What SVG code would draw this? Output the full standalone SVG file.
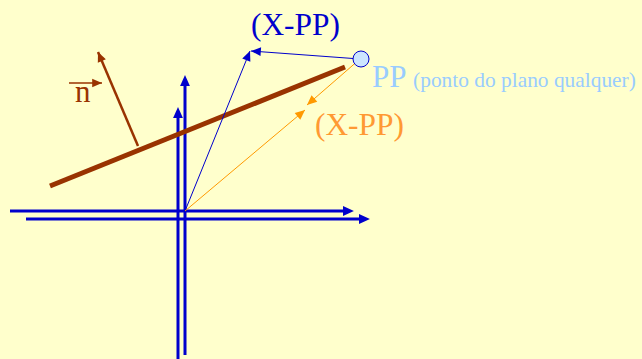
<svg xmlns="http://www.w3.org/2000/svg" width="642" height="359" viewBox="0 0 642 359">
<style>
.t{font-family:"Liberation Serif","Times New Roman",serif;}
.axis{stroke:#0000CC;stroke-width:3;fill:none;}
.thinb{stroke:#0000CC;stroke-width:1;fill:none;}
.thino{stroke:#FF9900;stroke-width:1;fill:none;}
.brown{stroke:#993300;fill:none;}
</style>
<defs>
<marker id="axh" markerUnits="userSpaceOnUse" markerWidth="12" markerHeight="12" viewBox="0 -5 11 10" refX="0" refY="0" orient="auto"><path d="M0,-4.5 L10,0 L0,4.5 z" fill="#0000CC"/></marker>
<marker id="bh" markerUnits="userSpaceOnUse" markerWidth="12" markerHeight="12" viewBox="-10 -5 11 10" refX="0" refY="0" orient="auto"><path d="M-9,-4 L0,0 L-9,4 z" fill="#0000CC"/></marker>
<marker id="oh" markerUnits="userSpaceOnUse" markerWidth="12" markerHeight="12" viewBox="-10 -5 11 10" refX="0" refY="0" orient="auto"><path d="M-9,-4 L0,0 L-9,4 z" fill="#FF9900"/></marker>
<marker id="brh" markerUnits="userSpaceOnUse" markerWidth="12" markerHeight="12" viewBox="-10 -5 11 10" refX="0" refY="0" orient="auto"><path d="M-9,-4 L0,0 L-9,4 z" fill="#993300"/></marker>
</defs>
<rect x="0" y="0" width="642" height="359" fill="#FFFFCC"/>
<g id="connectors">
<path class="axis" d="M10,211 H343" marker-end="url(#axh)"/>
<path class="axis" d="M26,219 H359" marker-end="url(#axh)"/>
<path class="axis" d="M178,359 V118" marker-end="url(#axh)"/>
<path class="axis" d="M185,355 V86" marker-end="url(#axh)"/>
<path class="brown" stroke-width="5" d="M50,186 L345,67"/>
<path class="brown" stroke-width="2.5" d="M138,146 L98,52" marker-end="url(#brh)"/>
<path class="thinb" d="M185,211 L250,51" marker-end="url(#bh)"/>
<path class="thinb" d="M360,59 L251,51" marker-end="url(#bh)"/>
<path class="thino" d="M185,211 L305,110" marker-end="url(#oh)"/>
<path class="thino" d="M360,59 L307,105" marker-end="url(#oh)"/>
</g>
<g id="pp">
<circle cx="361" cy="59" r="8" fill="#CCE5FF" stroke="#0000CC" stroke-width="1"/>
<text class="t" x="372" y="87" font-size="31" fill="#99CCFF">PP <tspan font-size="21.4">(ponto do plano qualquer)</tspan></text>
</g>
<g id="label-blue">
<text class="t" x="251" y="35" font-size="31.4" fill="#0000CC">(X-PP)</text>
</g>
<g id="label-orange">
<text class="t" x="315" y="135" font-size="31.4" fill="#FF9933">(X-PP)</text>
</g>
<g id="label-n">
<path class="brown" stroke-width="1.5" d="M69,83 H102" marker-end="url(#brh)"/>
<text class="t" x="75" y="102" font-size="31" fill="#993300">n</text>
</g>
</svg>
